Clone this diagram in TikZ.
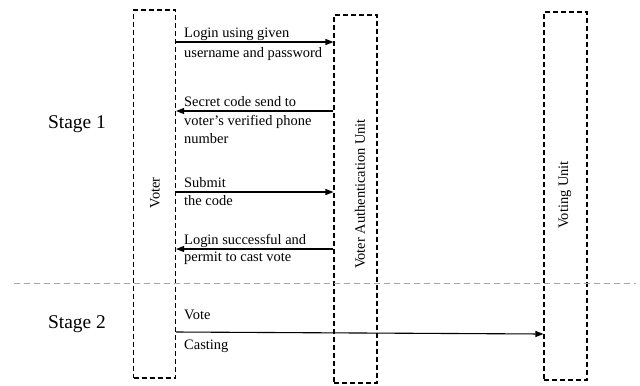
\documentclass[tikz,border=0pt]{standalone}
\usepackage{fontspec}
\setmainfont{Liberation Serif}
\usetikzlibrary{arrows.meta}
\begin{document}
\begin{tikzpicture}[x=1bp,y=-1bp,
  lifeline/.style={draw, line width=1.1bp, dash pattern=on 5bp off 3bp, inner sep=0pt},
  msg/.style={line width=1.1bp, -{Triangle[length=8bp,width=6bp]}},
  lbl/.style={anchor=base west, inner sep=0pt, font=\fontsize{14.5}{16}\selectfont},
  unitname/.style={rotate=90, inner sep=0pt, font=\fontsize{14.5}{16}\selectfont},
  stagelbl/.style={anchor=base, inner sep=0pt, font=\fontsize{19.5}{22}\selectfont},
  divider/.style={gray!70, line width=0.9bp, dash pattern=on 6bp off 4bp}]
\useasboundingbox (0,0) rectangle (640,385);

% lifeline boxes
\node[lifeline, minimum width=42bp, minimum height=368bp] (voter) at (154.5,194) {};
\node[lifeline, minimum width=43bp, minimum height=368bp] (vau) at (355.5,199) {};
\node[lifeline, minimum width=43bp, minimum height=368bp] (vu) at (565.5,196) {};

\node[unitname] (voterT) at (155,193) {Voter};
\node[unitname] (vauT) at (360,194) {Voter Authentication Unit};
\node[unitname] (vuT) at (565,195) {Voting Unit};

% stage separator
\coordinate (sepL) at (14,283);
\coordinate (sepR) at (636,283);
\draw[divider] (sepL) -- (sepR);

\node[stagelbl] (s1) at (77,128) {Stage 1};
\node[stagelbl] (s2) at (77,328) {Stage 2};

% messages
\draw[msg] (voter.east |- 0,42) -- (vau.west |- 0,42);
\node[lbl] (m1a) at (184,37.5) {Login using given};
\node[lbl] (m1b) at (184,57) {username and password};

\draw[msg] (vau.west |- 0,111) -- (voter.east |- 0,111);
\node[lbl] (m2a) at (184,106) {Secret code send to};
\node[lbl] (m2b) at (184,125) {voter’s verified phone};
\node[lbl] (m2c) at (184,143) {number};

\draw[msg] (voter.east |- 0,192) -- (vau.west |- 0,192);
\node[lbl] (m3a) at (184,187) {Submit};
\node[lbl] (m3b) at (184,205) {the code};

\draw[msg] (vau.west |- 0,249) -- (voter.east |- 0,249);
\node[lbl] (m4a) at (184,244) {Login successful and};
\node[lbl] (m4b) at (184,261.5) {permit to cast vote};

\draw[msg] (voter.east |- 0,332) -- (vu.west |- 0,334);
\node[lbl] (m5a) at (184,319.5) {Vote};
\node[lbl] (m5b) at (184,349) {Casting};
\end{tikzpicture}
\end{document}
